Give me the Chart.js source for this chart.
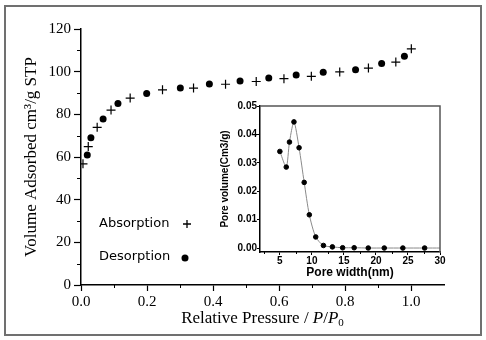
<!DOCTYPE html>
<html>
<head>
<meta charset="utf-8">
<script src="https://cdn.jsdelivr.net/npm/chart.js"></script>
<style>
  html, body { margin:0; padding:0; background:#fff; }
  #wrap { position:relative; width:486px; height:340px; }
  #mainChart { position:absolute; left:0; top:0; }
  #poreChart { position:absolute; left:210px; top:90px; }
  #frame { position:absolute; left:4px; top:5px; width:474px; height:327px; border:2px solid #707070; pointer-events:none; }
</style>
</head>
<body>
<div id="wrap">
  <canvas id="mainChart" width="486" height="340"></canvas>
  <canvas id="poreChart" width="250" height="190"></canvas>
  <div id="frame"></div>
</div>
<script>
// isotherm
var adsP = [0.006, 0.022, 0.049, 0.091, 0.149, 0.247, 0.341, 0.438, 0.531, 0.615, 0.698, 0.784, 0.871, 0.954, 1.001];
var adsV = [56.8, 64.9, 73.9, 82.0, 87.6, 91.5, 92.3, 94.1, 95.4, 96.7, 97.8, 99.9, 101.7, 104.5, 110.7];
var desP = [0.019, 0.030, 0.067, 0.112, 0.199, 0.301, 0.389, 0.482, 0.569, 0.652, 0.734, 0.832, 0.911, 0.980];
var desV = [60.9, 69.0, 77.8, 85.1, 89.8, 92.3, 94.2, 95.6, 97.0, 98.4, 99.7, 100.9, 103.8, 107.2];

// pore size distribution (last point only carries the line to the edge)
var poreWidth = [5.0, 6.0, 6.5, 7.2, 8.0, 8.8, 9.6, 10.6, 11.8, 13.2, 14.8, 16.6, 18.8, 21.3, 24.2, 27.6, 30];
var poreVol = [0.0340, 0.0285, 0.0373, 0.0444, 0.0353, 0.0231, 0.0117, 0.0039, 0.0009, 0.0004, 0.0001, 0.0001, 0, 0, 0, 0, 0];

var legendLabels = ['Absorption', 'Desorption'];
var mainYTicks = [0, 20, 40, 60, 80, 100, 120];
var mainXTicks = [0.0, 0.2, 0.4, 0.6, 0.8, 1.0];

var serif = '"Liberation Serif", "Times New Roman", serif';
var boldSans = '"Liberation Sans", Arial, sans-serif';

function toXY(xs, ys) {
    return xs.map(function(x, i) { return {x: x, y: ys[i]}; });
}

// short minor ticks drawn with the scale's own pixel mapping
function minorTicks(scale, values, len, ctx) {
    ctx.save();
    ctx.strokeStyle = '#000';
    ctx.lineWidth = 1;
    values.forEach(function(v) {
        ctx.beginPath();
        if (scale.isHorizontal()) {
            var px = Math.round(scale.getPixelForValue(v)) + 0.5;
            ctx.moveTo(px, scale.top);
            ctx.lineTo(px, scale.top + len);
        } else {
            var py = Math.round(scale.getPixelForValue(v)) + 0.5;
            ctx.moveTo(scale.right, py);
            ctx.lineTo(scale.right - len, py);
        }
        ctx.stroke();
    });
    ctx.restore();
}

var mainExtras = {
    id: 'mainExtras',
    afterDraw: function(chart) {
        var ctx = chart.ctx;
        var area = chart.chartArea;
        minorTicks(chart.scales.y, [10, 30, 50, 70, 90, 110], 4, ctx);
        minorTicks(chart.scales.x, [0.1, 0.3, 0.5, 0.7, 0.9], 3, ctx);

        // legend: text first, marker after
        ctx.save();
        ctx.fillStyle = '#000';
        ctx.strokeStyle = '#000';
        ctx.font = '13px "DejaVu Sans", sans-serif';
        ctx.textBaseline = 'middle';
        ctx.fillText(legendLabels[0], 99, 224);
        ctx.fillText(legendLabels[1], 99, 257);
        ctx.lineWidth = 1.3;
        ctx.beginPath();
        ctx.moveTo(183, 224); ctx.lineTo(191, 224);
        ctx.moveTo(187, 220); ctx.lineTo(187, 228);
        ctx.stroke();
        ctx.beginPath();
        ctx.arc(185, 258, 3.5, 0, Math.PI * 2);
        ctx.fill();

        // x title with italic P/P0
        var size = 17;
        var parts = [
            {t: 'Relative Pressure / ', f: size + 'px ' + serif},
            {t: 'P', f: 'italic ' + size + 'px ' + serif},
            {t: '/', f: size + 'px ' + serif},
            {t: 'P', f: 'italic ' + size + 'px ' + serif},
            {t: '0', f: '11px ' + serif, sub: true}
        ];
        var total = 0;
        parts.forEach(function(p) { ctx.font = p.f; p.w = ctx.measureText(p.t).width; total += p.w; });
        var x = (area.left + area.right) / 2 - total / 2;
        var base = 323;
        ctx.textBaseline = 'alphabetic';
        parts.forEach(function(p) {
            ctx.font = p.f;
            ctx.fillText(p.t, x, p.sub ? base + 3 : base);
            x += p.w;
        });
        ctx.restore();
    }
};

var ctxMain = document.getElementById('mainChart').getContext('2d');
var mainChart = new Chart(ctxMain, {
    type: 'scatter',
    data: {
        datasets: [{
            label: legendLabels[0],
            data: toXY(adsP, adsV),
            pointStyle: 'cross',
            pointRadius: 4.5,
            borderColor: '#000',
            borderWidth: 1.2
        }, {
            label: legendLabels[1],
            data: toXY(desP, desV),
            pointStyle: 'circle',
            pointRadius: 3.5,
            backgroundColor: '#000',
            borderColor: '#000',
            borderWidth: 0
        }]
    },
    options: {
        responsive: false,
        maintainAspectRatio: false,
        animation: false,
        devicePixelRatio: 1,
        layout: { padding: { left: 0, top: 29, right: 42, bottom: 0 } },
        plugins: { legend: { display: false }, tooltip: { enabled: false } },
        scales: {
            x: {
                type: 'linear',
                min: 0, max: 1.1,
                afterBuildTicks: function(s) { s.ticks = mainXTicks.map(function(v) { return {value: v}; }); },
                ticks: {
                    color: '#000', padding: 2,
                    font: { family: serif, size: 15 },
                    callback: function(v) { return v.toFixed(1); }
                },
                grid: { drawOnChartArea: false, tickLength: 6, color: '#000', tickWidth: 1.2 },
                border: { display: true, color: '#000', width: 1.5 },
                afterFit: function(s) { s.height = 55; }
            },
            y: {
                min: 0, max: 120,
                afterBuildTicks: function(s) { s.ticks = mainYTicks.map(function(v) { return {value: v}; }); },
                ticks: { color: '#000', padding: 3, font: { family: serif, size: 15 } },
                grid: { drawOnChartArea: false, tickLength: 7, color: '#000', tickWidth: 1.2 },
                border: { display: true, color: '#000', width: 1.5 },
                title: {
                    display: true, text: 'Volume Adsorbed cm\u00b3/g STP', color: '#000',
                    font: { family: serif, size: 17 }, padding: { top: 21, bottom: 0 }
                },
                afterFit: function(s) { s.width = 81; }
            }
        }
    },
    plugins: [mainExtras]
});

var poreExtras = {
    id: 'poreExtras',
    afterDraw: function(chart) {
        var ctx = chart.ctx;
        var a = chart.chartArea;
        minorTicks(chart.scales.x, [2.5, 7.5, 12.5, 17.5, 22.5, 27.5], 2, ctx);
        ctx.save();
        ctx.strokeStyle = '#555';
        ctx.lineWidth = 1.5;
        ctx.beginPath();
        ctx.moveTo(a.left, a.top); ctx.lineTo(a.right, a.top); ctx.lineTo(a.right, a.bottom);
        ctx.stroke();
        ctx.restore();
    }
};

var ctxPore = document.getElementById('poreChart').getContext('2d');
var poreChart = new Chart(ctxPore, {
    type: 'line',
    data: {
        datasets: [{
            data: toXY(poreWidth, poreVol),
            borderColor: '#8a8a8a',
            borderWidth: 1,
            tension: 0.25,
            pointBackgroundColor: '#000',
            pointBorderColor: '#000',
            pointRadius: function(c) { return c.dataIndex === poreWidth.length - 1 ? 0 : 2.3; }
        }]
    },
    options: {
        responsive: false,
        maintainAspectRatio: false,
        animation: false,
        devicePixelRatio: 1,
        layout: { padding: { left: 0, top: 16, right: 20, bottom: 0 } },
        plugins: { legend: { display: false }, tooltip: { enabled: false } },
        scales: {
            x: {
                type: 'linear',
                min: 1.9, max: 30,
                ticks: {
                    stepSize: 5, includeBounds: false, color: '#000', padding: 0,
                    font: { family: boldSans, size: 10, weight: 'bold' }
                },
                grid: { drawOnChartArea: false, tickLength: 3, color: '#000' },
                border: { display: true, color: '#000', width: 1.5 },
                title: {
                    display: true, text: 'Pore width(nm)', color: '#000',
                    font: { family: boldSans, size: 12, weight: 'bold' }, padding: { top: 0, bottom: 0 }
                },
                afterFit: function(s) { s.height = 28; }
            },
            y: {
                min: -0.0014, max: 0.05,
                ticks: {
                    stepSize: 0.01, includeBounds: false, color: '#000', padding: 0,
                    font: { family: boldSans, size: 10, weight: 'bold' },
                    callback: function(v) { return v.toFixed(2); }
                },
                grid: { drawOnChartArea: false, tickLength: 3, color: '#000' },
                border: { display: true, color: '#000', width: 1.5 },
                title: {
                    display: true, text: 'Pore volume(Cm3/g)', color: '#000',
                    font: { family: boldSans, size: 10, weight: 'bold' }, padding: { top: 9, bottom: 0 }
                },
                afterFit: function(s) { s.width = 50; }
            }
        }
    },
    plugins: [poreExtras]
});
</script>
</body>
</html>
